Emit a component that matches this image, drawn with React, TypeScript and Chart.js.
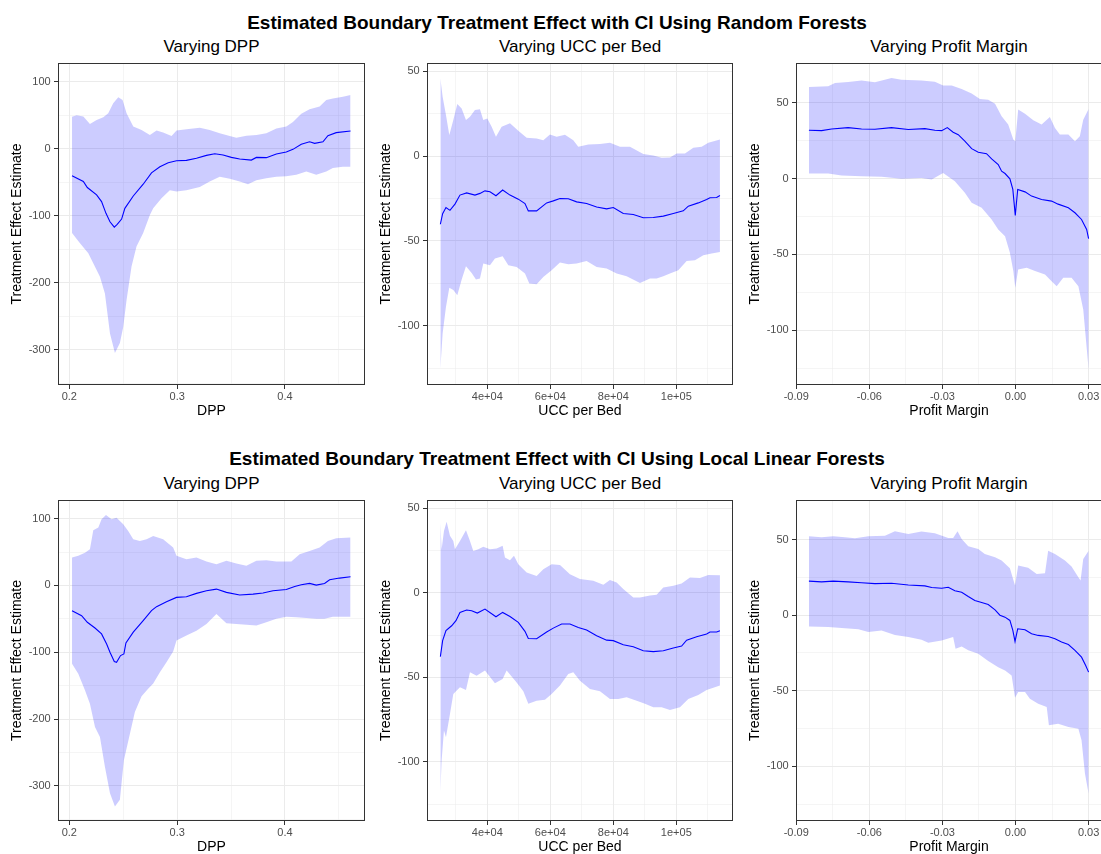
import React, { useEffect, useRef } from "react";
import { Chart, registerables } from "chart.js";

Chart.register(...registerables);

const FONT = '"Liberation Sans", Arial, Helvetica, sans-serif';

// ---------- Titles ----------
const mainTitles = [
  "Estimated Boundary Treatment Effect with CI Using Random Forests",
  "Estimated Boundary Treatment Effect with CI Using Local Linear Forests",
];
const panelTitles = ["Varying DPP", "Varying UCC per Bed", "Varying Profit Margin"];
const xTitles = ["DPP", "UCC per Bed", "Profit Margin"];
const yTitle = "Treatment Effect Estimate";

// ---------- Axis ticks ----------
const dppXRange = [0.1895, 0.4742];
const dppXTicks = [0.2, 0.3, 0.4];
const dppXTickLabels = ["0.2", "0.3", "0.4"];
const dppXMinor = [0.25, 0.35, 0.45];
const dppYRange = [-352.7, 127.9];
const dppYTicks = [100, 0, -100, -200, -300];
const dppYTickLabels = ["100", "0", "-100", "-200", "-300"];
const dppYMinor = [50, -50, -150, -250, -350];

const uccXRange = [20857, 118000];
const uccXTicks = [40000, 60000, 80000, 100000];
const uccXTickLabels = ["4e+04", "6e+04", "8e+04", "1e+05"];
const uccXMinor = [30000, 50000, 70000, 90000, 110000];
const uccYRange = [-135, 54.9];
const uccYTicks = [50, 0, -50, -100];
const uccYTickLabels = ["50", "0", "-50", "-100"];
const uccYMinor = [25, -25, -75, -125];

const pmXRange = [-0.0901, 0.0355];
const pmXTicks = [-0.09, -0.06, -0.03, 0, 0.03];
const pmXTickLabels = ["-0.09", "-0.06", "-0.03", "0.00", "0.03"];
const pmXMinor = [-0.075, -0.045, -0.015, 0.015];
const pmYRange = [-136.2, 76.2];
const pmYTicks = [50, 0, -50, -100];
const pmYTickLabels = ["50", "0", "-50", "-100"];
const pmYMinor = [25, -25, -75, -125];

// ---------- Random Forests: DPP ----------
const rfDppEstX = [0.2025,0.2130,0.2167,0.2253,0.2299,0.2340,0.2377,0.2417,0.2444,0.2485,0.2515,0.2593,0.2685,0.2762,0.2840,0.2917,0.2994,0.3086,0.3179,0.3272,0.3349,0.3426,0.3503,0.3580,0.3688,0.3735,0.3827,0.3920,0.4012,0.4074,0.4151,0.4228,0.4275,0.4352,0.4398,0.4475,0.4608];
const rfDppEst = [-40.3,-49,-58,-69,-79,-96.5,-109,-117,-113,-105,-89,-70.6,-53,-36,-27,-21,-18,-17.4,-14.4,-10,-7.5,-9.5,-13,-15.4,-17,-13,-13.4,-8,-5,-1,6.5,10.4,8,10.4,19.4,24,26.4];
const rfDppHiX = [0.2025,0.2068,0.2130,0.2191,0.2253,0.2315,0.2361,0.2407,0.2454,0.2494,0.2531,0.2593,0.2670,0.2747,0.2809,0.2870,0.2948,0.2994,0.3086,0.3210,0.3302,0.3395,0.3488,0.3549,0.3642,0.3735,0.3827,0.3920,0.4012,0.4074,0.4151,0.4228,0.4321,0.4383,0.4444,0.4537,0.4608];
const rfDppHi = [47.8,50,48,37,43,47,53,68,76.6,72.6,53,33,28,20.4,27,24,19,27,29,31.3,28,23,19,16.4,19.4,20.4,23,30,33,40,52,59,63,72.6,75,77.6,80];
const rfDppLoX = [0.2025,0.2099,0.2176,0.2222,0.2284,0.2330,0.2377,0.2423,0.2469,0.2500,0.2531,0.2577,0.2623,0.2685,0.2747,0.2778,0.2855,0.2932,0.2994,0.3086,0.3210,0.3302,0.3395,0.3488,0.3580,0.3657,0.3735,0.3827,0.3920,0.4012,0.4105,0.4198,0.4290,0.4383,0.4444,0.4537,0.4608];
const rfDppLo = [-126,-141,-156,-171,-191,-216,-276,-305,-290,-266,-226,-176,-146,-126,-99,-89,-74,-62,-64,-62,-57,-49,-42,-45,-49,-53,-47,-44,-42,-41,-39,-34,-39,-34,-29,-27,-27];

// ---------- Random Forests: UCC per Bed ----------
const rfUccEstX = [25100,25820,26880,28150,29730,31320,33440,36080,37670,39260,40850,42750,44870,47200,49840,51960,53020,55660,58840,60950,63070,65710,68360,71530,74710,77880,80000,83170,86350,89520,92700,95870,99050,102220,103810,106980,109630,110690,112800,113860];
const rfUccEst = [-40.2,-34,-30.3,-32,-28.3,-23,-21.7,-23,-22,-20.5,-21,-23.4,-20,-23,-25.4,-28,-32.3,-32.3,-27.6,-26.4,-25,-25.2,-27,-28,-30,-31.1,-30.3,-33.9,-34.4,-36.4,-36.2,-35.4,-33.9,-32.3,-29.5,-27.6,-25.6,-24.6,-24.4,-23.2];
const rfUccHiX = [25100,25820,26880,27940,29210,30480,31850,33230,34500,36080,37670,38730,40000,41380,42750,44550,47200,49840,52490,55660,57780,59890,62010,64660,67300,68890,72060,75770,78940,82120,85290,89520,92700,95340,97990,100110,102750,105400,108040,110160,113860];
const rfUccHi = [45.9,35,24.2,12.4,21.3,30.7,28,21.3,23.2,27.2,27.6,21.3,22.2,17.3,11.4,17.3,19.3,15,10.8,10.4,9.4,12.8,11.4,12.6,9.4,5.5,6.9,7.1,7.9,5.5,5.5,1.2,0.4,-1,-0.8,1.6,1.6,4.9,5.5,7.9,9.8];
const rfUccLoX = [25100,25820,26880,27940,29210,30480,31850,33230,35030,36400,37670,38730,40850,42430,44870,46670,49310,51960,53330,55660,57780,60420,63070,65710,68360,71530,74710,77880,81060,84230,88470,91640,93760,95870,97990,100640,103280,105930,108570,111220,113860];
const rfUccLo = [-125.4,-104.7,-89,-77.6,-79,-82,-73,-65,-69,-72.8,-72.2,-63.4,-64.4,-60.4,-59,-64.4,-65.4,-69.3,-75.2,-75.6,-71.3,-67.3,-62.8,-63.8,-63.4,-61.8,-65.4,-66.3,-69.3,-70.9,-74.8,-72.2,-72.2,-70.9,-69.3,-67.3,-61.8,-61.4,-58.5,-57.5,-56.5];

// ---------- Random Forests: Profit Margin ----------
const rfPmEstX = [-0.0848,-0.0796,-0.0755,-0.0687,-0.0632,-0.0577,-0.0509,-0.0440,-0.0372,-0.0331,-0.0303,-0.0280,-0.0256,-0.0235,-0.0208,-0.0180,-0.0153,-0.0119,-0.0098,-0.0071,-0.0057,-0.0043,-0.0023,-0.0011,-0.0001,0.0009,0.0039,0.0066,0.0107,0.0148,0.0175,0.0217,0.0244,0.0271,0.0292,0.0300];
const rfPmEst = [31.8,31.6,32.7,33.6,32.7,32.5,33.6,32.3,32.9,31.8,31.6,33.6,30.5,28.9,24.6,19.7,17.3,16.4,12.9,9.2,4.8,3.3,-0.2,-7.2,-24.3,-7.2,-8.8,-11.6,-13.8,-14.9,-16.9,-19.3,-22.6,-27,-33.6,-39.7];
const rfPmHiX = [-0.0848,-0.0769,-0.0741,-0.0687,-0.0632,-0.0577,-0.0509,-0.0468,-0.0386,-0.0331,-0.0297,-0.0262,-0.0221,-0.0180,-0.0146,-0.0112,-0.0084,-0.0057,-0.0030,-0.0009,-0.0001,0.0011,0.0039,0.0073,0.0107,0.0141,0.0162,0.0182,0.0217,0.0244,0.0264,0.0278,0.0300];
const rfPmHi = [60.4,60.9,63,63.7,64.6,63.5,66.3,65.2,64.7,63.9,61.3,61.3,59,56,52.5,52,49.4,41,35.6,25.7,24.6,45.5,42.8,38.4,35.6,40.6,33.3,29,29,24.6,27.9,38.8,45.8];
const rfPmLoX = [-0.0848,-0.0769,-0.0714,-0.0632,-0.0550,-0.0468,-0.0386,-0.0344,-0.0297,-0.0249,-0.0208,-0.0180,-0.0139,-0.0098,-0.0071,-0.0043,-0.0023,-0.0009,-0.0001,0.0011,0.0046,0.0080,0.0121,0.0148,0.0169,0.0196,0.0230,0.0258,0.0278,0.0300];
const rfPmLo = [3.3,3.3,2,1.5,1.1,-0.2,0.4,-0.7,3.7,-1.8,-9.4,-16,-19.3,-27,-33.6,-38,-49,-61,-72,-60,-58.8,-61,-63.3,-67.7,-71,-65.5,-65.5,-71,-86.4,-125.9];

// ---------- Local Linear Forests: DPP ----------
const llfDppEstX = [0.2025,0.2114,0.2167,0.2238,0.2299,0.2346,0.2377,0.2417,0.2438,0.2475,0.2506,0.2525,0.2593,0.2685,0.2762,0.2809,0.2901,0.2994,0.3086,0.3179,0.3272,0.3364,0.3457,0.3580,0.3704,0.3796,0.3889,0.4012,0.4090,0.4151,0.4228,0.4290,0.4367,0.4414,0.4506,0.4608];
const llfDppEst = [-37.8,-45.3,-55.2,-63.7,-72.6,-87.6,-100,-114,-115,-105,-102.5,-86,-70,-52.7,-37.8,-31.8,-24.4,-17.9,-16.9,-11.9,-8,-5.5,-10.4,-14.4,-13,-11.4,-8,-6,-1.5,1,3,0.5,3,8.5,11,12.9];
const llfDppHiX = [0.2025,0.2083,0.2145,0.2191,0.2222,0.2269,0.2299,0.2340,0.2392,0.2438,0.2500,0.2546,0.2593,0.2654,0.2716,0.2778,0.2870,0.2963,0.2994,0.3086,0.3179,0.3272,0.3364,0.3457,0.3549,0.3642,0.3735,0.3827,0.3920,0.4059,0.4136,0.4228,0.4321,0.4398,0.4475,0.4608];
const llfDppHi = [41.8,44.3,49,54,82.6,86.6,99,105.5,99,101.5,91.5,81.6,69,66.7,69,74,69,56.7,44.3,39.3,41.8,35.8,31.8,36.8,32.8,29.4,36.8,37.8,35.8,35.8,46.8,51.7,56.7,66.7,70.6,71.6];
const llfDppLoX = [0.2025,0.2083,0.2145,0.2191,0.2238,0.2284,0.2330,0.2377,0.2423,0.2469,0.2506,0.2562,0.2608,0.2670,0.2731,0.2778,0.2840,0.2901,0.2963,0.2994,0.3086,0.3179,0.3272,0.3364,0.3457,0.3549,0.3642,0.3735,0.3827,0.3920,0.4012,0.4105,0.4198,0.4290,0.4367,0.4444,0.4608];
const llfDppLo = [-117.4,-132.3,-157,-177,-212,-227,-271.6,-311,-331,-321,-261.7,-222,-189.6,-166,-154.7,-147,-130,-115,-99,-82.6,-75,-67.7,-57.7,-42.8,-56.7,-57.7,-58.7,-60,-55.2,-50,-46.8,-47.8,-48.8,-50,-50,-46.8,-46.8];

// ---------- Local Linear Forests: UCC per Bed ----------
const llfUccEstX = [25100,25820,26880,28680,30050,31320,33440,35030,36830,39260,42750,44870,47200,49840,51960,53020,55660,58840,60950,63600,66240,68890,71530,74710,77880,80000,83170,86350,89520,92700,95870,99050,101690,103280,106460,109630,110690,112800,113860];
const llfUccEst = [-37.8,-28.3,-22.4,-19.5,-16.5,-11.6,-10.2,-10.6,-12,-9.6,-14.2,-11.6,-14,-17.5,-22.8,-27,-27.2,-23.2,-20.9,-18.5,-18.5,-20.5,-22,-25.4,-28,-28.3,-30.7,-31.9,-34.3,-34.8,-34.3,-32.7,-31.5,-28,-26,-24.4,-23.2,-23.2,-22.4];
const llfUccHiX = [25100,25500,26240,27090,28150,29210,29730,31320,33230,34500,35560,37140,38730,40850,42960,44870,45610,47200,48470,49840,52490,55660,57780,60420,63070,66240,69420,73650,76830,78940,81060,83170,86350,88470,91640,93760,95870,99050,101690,104340,107510,110160,113860];
const llfUccHi = [41.5,25.8,36.6,42,33.7,30.7,25.8,30.7,37,30.7,24.8,25.8,27.2,25.8,26.2,27.8,20.9,19.3,21.9,16.9,12,10,14,16.9,16.5,11,8.1,7.1,4.7,7.5,6.1,2.2,-2.8,-2.8,-1.6,-1.2,3.1,4.1,5.5,9.1,8.7,10.6,10.4];
const llfUccLoX = [25100,25500,26240,26880,28150,29210,31320,33230,34500,36610,39260,42430,44870,46140,49310,51430,53020,55660,58310,60420,63070,65710,67300,69420,72590,75770,78940,81590,84230,87410,90050,92700,95340,97990,101160,103810,106980,109630,113860];
const llfUccLo = [-117.9,-99.2,-81.5,-85.4,-71.7,-59.8,-55.9,-57.5,-47,-49,-46,-53.5,-51,-46,-53,-58.3,-65.7,-63.8,-63.2,-59.8,-54.9,-48,-47,-52,-56.9,-58.3,-62.8,-62.8,-61.8,-63.8,-65.7,-67.7,-67.7,-69.3,-67.7,-62.8,-60.4,-57.5,-54.9];

// ---------- Local Linear Forests: Profit Margin ----------
const llfPmEstX = [-0.0848,-0.0796,-0.0748,-0.0687,-0.0632,-0.0577,-0.0509,-0.0440,-0.0372,-0.0344,-0.0303,-0.0276,-0.0249,-0.0221,-0.0194,-0.0167,-0.0139,-0.0112,-0.0084,-0.0064,-0.0043,-0.0023,-0.0011,-0.0002,0.0009,0.0039,0.0066,0.0093,0.0134,0.0162,0.0189,0.0217,0.0244,0.0271,0.0288,0.0300];
const llfPmEst = [22.5,22,22.5,22,21.4,20.9,21.1,20,19.4,18.3,17.8,18.5,16.1,15.2,12.3,9.7,8.4,7,3.5,0,-1.3,-3.5,-10.1,-17.4,-9,-9.7,-12.3,-13.4,-14.1,-15.6,-17.8,-19.4,-23.3,-27.8,-33.3,-37.7];
const llfPmHiX = [-0.0848,-0.0796,-0.0748,-0.0700,-0.0659,-0.0604,-0.0536,-0.0495,-0.0440,-0.0386,-0.0331,-0.0276,-0.0256,-0.0238,-0.0221,-0.0194,-0.0153,-0.0126,-0.0084,-0.0057,-0.0023,-0.0002,0.0011,0.0052,0.0087,0.0121,0.0134,0.0162,0.0203,0.0230,0.0258,0.0267,0.0278,0.0300];
const llfPmHi = [52.2,51.5,52.2,51.5,50.9,52.2,52.6,55.5,53.7,55.3,54.2,51.1,51.1,55.5,50.4,45.6,43.8,40.5,38.3,36.1,31,19.6,32.8,31.3,27.3,27.8,42.7,40.5,36.1,32.2,25.1,22.9,37.2,42.7];
const llfPmLoX = [-0.0848,-0.0769,-0.0700,-0.0645,-0.0604,-0.0550,-0.0495,-0.0440,-0.0386,-0.0358,-0.0303,-0.0256,-0.0246,-0.0221,-0.0194,-0.0153,-0.0112,-0.0071,-0.0043,-0.0016,-0.0002,0.0011,0.0039,0.0059,0.0093,0.0128,0.0137,0.0175,0.0217,0.0258,0.0271,0.0285,0.0300];
const llfPmLo = [-7.5,-7.9,-8.6,-9.3,-11.2,-10.1,-13.2,-14.5,-16.3,-18.3,-16.7,-14.5,-22.2,-20.7,-23.3,-25.6,-30.4,-34.4,-36.6,-39.9,-54.6,-50.9,-50.9,-55.3,-58.6,-60.8,-72.9,-71.8,-74,-75.1,-82.8,-104.8,-118.1];

// ---------- Layout (pixels) ----------
const colBoxes = [
  { l: 58, w: 307 },
  { l: 427, w: 306 },
  { l: 796, w: 306 },
];
const rowBoxes = [
  { t: 63, h: 322, titleTop: 13.4, subTop: 37.6 },
  { t: 500, h: 321, titleTop: 449.4, subTop: 474.6 },
];

type AxisSpec = { range: number[]; major: number[]; labels: string[]; minor: number[] };
type Series = { estX: number[]; est: number[]; hiX: number[]; hi: number[]; loX: number[]; lo: number[] };
type Tk = { value: number; label: string; major: boolean };

const xAxes: AxisSpec[] = [
  { range: dppXRange, major: dppXTicks, labels: dppXTickLabels, minor: dppXMinor },
  { range: uccXRange, major: uccXTicks, labels: uccXTickLabels, minor: uccXMinor },
  { range: pmXRange, major: pmXTicks, labels: pmXTickLabels, minor: pmXMinor },
];
const yAxes: AxisSpec[] = [
  { range: dppYRange, major: dppYTicks, labels: dppYTickLabels, minor: dppYMinor },
  { range: uccYRange, major: uccYTicks, labels: uccYTickLabels, minor: uccYMinor },
  { range: pmYRange, major: pmYTicks, labels: pmYTickLabels, minor: pmYMinor },
];
const seriesGrid: Series[][] = [
  [
    { estX: rfDppEstX, est: rfDppEst, hiX: rfDppHiX, hi: rfDppHi, loX: rfDppLoX, lo: rfDppLo },
    { estX: rfUccEstX, est: rfUccEst, hiX: rfUccHiX, hi: rfUccHi, loX: rfUccLoX, lo: rfUccLo },
    { estX: rfPmEstX, est: rfPmEst, hiX: rfPmHiX, hi: rfPmHi, loX: rfPmLoX, lo: rfPmLo },
  ],
  [
    { estX: llfDppEstX, est: llfDppEst, hiX: llfDppHiX, hi: llfDppHi, loX: llfDppLoX, lo: llfDppLo },
    { estX: llfUccEstX, est: llfUccEst, hiX: llfUccHiX, hi: llfUccHi, loX: llfUccLoX, lo: llfUccLo },
    { estX: llfPmEstX, est: llfPmEst, hiX: llfPmHiX, hi: llfPmHi, loX: llfPmLoX, lo: llfPmLo },
  ],
];

function buildTicks(a: AxisSpec): Tk[] {
  const all: Tk[] = [
    ...a.major.map((v, i) => ({ value: v, label: a.labels[i], major: true })),
    ...a.minor.map((v) => ({ value: v, label: "", major: false })),
  ];
  return all
    .filter((k) => k.value >= a.range[0] && k.value <= a.range[1])
    .sort((p, q) => p.value - q.value);
}

function zip(xs: number[], ys: number[]) {
  return xs.map((x, i) => ({ x, y: ys[i] }));
}

const borderPlugin = {
  id: "panelBorder",
  afterDatasetsDraw(chart: any) {
    const { ctx, chartArea } = chart;
    const l = Math.round(chartArea.left);
    const t = Math.round(chartArea.top);
    const r = Math.round(chartArea.right);
    const b = Math.round(chartArea.bottom);
    ctx.save();
    ctx.strokeStyle = "#333333";
    ctx.lineWidth = 1;
    ctx.strokeRect(l + 0.5, t + 0.5, r - l - 1, b - t - 1);
    ctx.restore();
  },
};

const PAD_L = 58;
const PAD_T = 20;
const PAD_R = 24;
const X_H = 35;

function Panel(props: { left: number; top: number; w: number; h: number; xa: AxisSpec; ya: AxisSpec; xTitle: string; s: Series }) {
  const { left, top, w, h, xa, ya, xTitle, s } = props;
  const ref = useRef<HTMLCanvasElement>(null);
  const cw = w + PAD_L + PAD_R;
  const ch = h + PAD_T + X_H;

  useEffect(() => {
    const grid = {
      color: "#EBEBEB",
      lineWidth: (c: any) => (c.tick && c.tick.major ? 1 : 0.5),
      tickColor: (c: any) => (c.tick && c.tick.major ? "#333333" : "rgba(0,0,0,0)"),
      tickLength: 4,
      tickWidth: 1,
      drawTicks: true,
    };
    const tickFont = { family: FONT, size: 11 };
    const titleFont = { family: FONT, size: 14 };
    const chart = new Chart(ref.current as HTMLCanvasElement, {
      type: "line",
      data: {
        datasets: [
          {
            label: "estimate",
            data: zip(s.estX, s.est),
            borderColor: "#0000FF",
            borderWidth: 1.1,
            pointRadius: 0,
            fill: false,
            tension: 0,
          },
          {
            label: "upper",
            data: zip(s.hiX, s.hi),
            borderColor: "rgba(0,0,0,0)",
            borderWidth: 0,
            pointRadius: 0,
            backgroundColor: "rgba(0,0,255,0.2)",
            fill: 2,
            tension: 0,
          },
          {
            label: "lower",
            data: zip(s.loX, s.lo),
            borderColor: "rgba(0,0,0,0)",
            borderWidth: 0,
            pointRadius: 0,
            fill: false,
            tension: 0,
          },
        ],
      } as any,
      options: {
        animation: false,
        responsive: false,
        maintainAspectRatio: false,
        devicePixelRatio: 1,
        events: [],
        layout: { padding: { left: 0, top: PAD_T, right: PAD_R, bottom: 0 }, autoPadding: false },
        plugins: {
          legend: { display: false },
          tooltip: { enabled: false },
          title: { display: false },
        },
        scales: {
          x: {
            type: "linear",
            min: xa.range[0],
            max: xa.range[1],
            bounds: "data",
            afterBuildTicks: (sc: any) => {
              sc.ticks = buildTicks(xa);
            },
            afterFit: (sc: any) => {
              sc.height = X_H;
            },
            ticks: {
              autoSkip: false,
              maxRotation: 0,
              minRotation: 0,
              padding: 1.5,
              color: "#4D4D4D",
              font: tickFont,
              callback: function (this: any, _v: any, i: number) {
                const t = this.ticks[i];
                return t ? t.label : "";
              },
            },
            grid,
            border: { display: false },
            title: {
              display: true,
              text: xTitle,
              color: "#000000",
              font: titleFont,
              padding: { top: 0, bottom: 0.6 },
            },
          },
          y: {
            type: "linear",
            min: ya.range[0],
            max: ya.range[1],
            bounds: "data",
            afterBuildTicks: (sc: any) => {
              sc.ticks = buildTicks(ya);
            },
            afterFit: (sc: any) => {
              sc.width = PAD_L;
            },
            ticks: {
              autoSkip: false,
              padding: 3.3,
              color: "#4D4D4D",
              font: tickFont,
              callback: function (this: any, _v: any, i: number) {
                const t = this.ticks[i];
                return t ? t.label : "";
              },
            },
            grid,
            border: { display: false },
            title: {
              display: true,
              text: yTitle,
              color: "#000000",
              font: titleFont,
              padding: { top: 8.8, bottom: 0 },
            },
          },
        },
      } as any,
      plugins: [borderPlugin],
    });
    return () => chart.destroy();
  }, []);

  return (
    <canvas
      ref={ref}
      width={cw}
      height={ch}
      style={{ position: "absolute", left: left - PAD_L, top: top - PAD_T, width: cw, height: ch, display: "block" }}
    />
  );
}

export default function App() {
  return (
    <div
      style={{
        position: "absolute",
        left: 0,
        top: 0,
        width: 1101,
        height: 854,
        overflow: "hidden",
        background: "#FFFFFF",
        fontFamily: FONT,
        color: "#000000",
      }}
    >
      {rowBoxes.map((row, ri) => (
        <React.Fragment key={"row" + ri}>
          <div
            style={{
              position: "absolute",
              left: 7,
              width: 1100,
              top: row.titleTop,
              fontSize: 19,
              lineHeight: "19px",
              fontWeight: "bold",
              textAlign: "center",
              whiteSpace: "nowrap",
            }}
          >
            {mainTitles[ri]}
          </div>
          {colBoxes.map((col, ci) => (
            <React.Fragment key={"p" + ri + "-" + ci}>
              <div
                style={{
                  position: "absolute",
                  left: col.l,
                  width: col.w,
                  top: row.subTop,
                  fontSize: 17,
                  lineHeight: "17px",
                  textAlign: "center",
                  whiteSpace: "nowrap",
                }}
              >
                {panelTitles[ci]}
              </div>
              <Panel
                left={col.l}
                top={row.t}
                w={col.w}
                h={row.h}
                xa={xAxes[ci]}
                ya={yAxes[ci]}
                xTitle={xTitles[ci]}
                s={seriesGrid[ri][ci]}
              />
            </React.Fragment>
          ))}
        </React.Fragment>
      ))}
    </div>
  );
}
